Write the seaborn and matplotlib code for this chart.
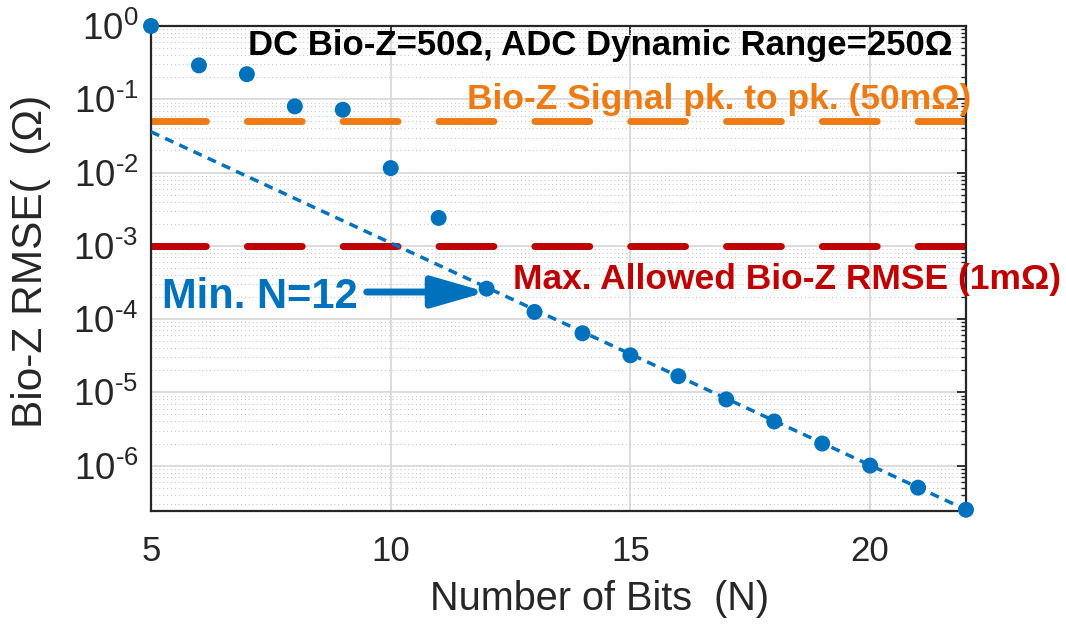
import numpy as np
import pandas as pd
import matplotlib
matplotlib.use("Agg")
import matplotlib.pyplot as plt
import seaborn as sns
from matplotlib.ticker import FixedLocator, LogLocator, NullFormatter, NullLocator, FixedFormatter

# ---------------- data ----------------
bits = [5, 6, 7, 8, 9, 10, 11, 12, 13, 14, 15, 16, 17, 18, 19, 20, 21, 22]
rmse = [1.0, 0.29, 0.22, 0.080, 0.072, 0.0115, 0.0024, 2.6e-4, 1.25e-4,
        6.4e-5, 3.2e-5, 1.66e-5, 8.0e-6, 4.0e-6, 2.0e-6, 1.0e-6, 5.0e-7, 2.5e-7]
fit_bits = [5, 22]
fit_rmse = [0.036, 2.5e-7]
signal_pp = 0.05
max_rmse = 1e-3
x_ticks = [5, 10, 15, 20]
y_ticks = [1e0, 1e-1, 1e-2, 1e-3, 1e-4, 1e-5, 1e-6]
y_tick_labels = [r"$10^{0}$", r"$10^{\text{-}1}$", r"$10^{\text{-}2}$", r"$10^{\text{-}3}$",
                 r"$10^{\text{-}4}$", r"$10^{\text{-}5}$", r"$10^{\text{-}6}$"]
x_tick_labels = ["5", "10", "15", "20"]

BLUE = "#0072BD"
ORANGE = "#EE7A14"
RED = "#C00000"
DARK = "#262626"

sns.set_theme(style="white")
plt.rcParams["font.family"] = ["Liberation Sans", "DejaVu Sans"]
plt.rcParams["mathtext.fontset"] = "custom"
plt.rcParams["mathtext.rm"] = "Liberation Sans"
plt.rcParams["mathtext.it"] = "Liberation Sans:italic"
plt.rcParams["mathtext.bf"] = "Liberation Sans:bold"

fig = plt.figure(figsize=(10.66, 6.28), dpi=100)
ax = fig.add_axes([151 / 1066, 1 - 511 / 628, (966 - 151) / 1066, (511 - 26) / 628])

df = pd.DataFrame({"bits": bits, "rmse": rmse})
fit_df = pd.DataFrame({"bits": fit_bits, "rmse": fit_rmse})

ax.set_yscale("log")
ax.set_xlim(5, 22)
ax.set_ylim(2.4e-7, 1.0)

# grid
ax.grid(which="major", color="#d9d9d9", lw=1.3, zorder=0)
ax.yaxis.grid(which="minor", color="#cacaca", lw=0.8, ls=(0, (1, 2.5)), zorder=0)
ax.set_axisbelow(True)

# reference lines
ax.axhline(signal_pp, color=ORANGE, lw=5, dashes=(7.9, 5.9), dash_capstyle="round", zorder=2)
ax.axhline(max_rmse, color=RED, lw=5, dashes=(7.9, 5.9), dash_capstyle="round", zorder=2)

# fit line
sns.lineplot(data=fit_df, x="bits", y="rmse", ax=ax, color=BLUE, lw=2.5,
             dashes=False, zorder=3)
ax.lines[-1].set_dashes((2.6, 1.9))

# data points
sns.scatterplot(data=df, x="bits", y="rmse", ax=ax, color=BLUE, s=11.5 ** 2,
                edgecolor="none", zorder=4, clip_on=False)

# ticks
ax.xaxis.set_major_locator(FixedLocator(x_ticks))
ax.xaxis.set_major_formatter(FixedFormatter(x_tick_labels))
ax.xaxis.set_minor_locator(NullLocator())
ax.yaxis.set_major_locator(FixedLocator(y_ticks))
ax.yaxis.set_major_formatter(FixedFormatter(y_tick_labels))
ax.yaxis.set_minor_locator(LogLocator(base=10, subs=np.arange(2, 10), numticks=20))
ax.yaxis.set_minor_formatter(NullFormatter())
ax.tick_params(which="both", direction="in", top=True, right=True, colors=DARK)
ax.tick_params(which="major", length=6.5, width=1.3)
ax.tick_params(axis="x", which="major", labelsize=25, pad=17)
ax.tick_params(axis="y", which="major", labelsize=26.5, pad=9)
ax.tick_params(which="minor", length=3.5, width=1.0)
for sp in ax.spines.values():
    sp.set_color(DARK)
    sp.set_linewidth(1.6)

ax.set_xlabel("")
ax.set_ylabel("")
fig.text(600 / 1066, 1 - 610 / 628, "Number of Bits  (N)", fontsize=28.5, color=DARK,
         ha="center", va="baseline")
fig.text(31 / 1066, 1 - 261 / 628, "Bio-Z RMSE(  (\u03a9)", fontsize=30.5, color=DARK,
         rotation=90, ha="center", va="center")

# annotations
ax.text(14.375, 0.40, "DC Bio-Z=50\u03a9, ADC Dynamic Range=250\u03a9", fontsize=25,
        fontweight="bold", color="black", ha="center", va="baseline", zorder=5)
ax.text(16.85, 0.073, "Bio-Z Signal pk. to pk. (50m\u03a9)", fontsize=25.5,
        fontweight="bold", color=ORANGE, ha="center", va="baseline", zorder=5)
ax.text(18.27, 2.57e-4, "Max. Allowed Bio-Z RMSE (1m\u03a9)", fontsize=25.5,
        fontweight="bold", color=RED, ha="center", va="baseline", zorder=5, clip_on=False)
ax.text(7.27, 1.41e-4, "Min. N=12", fontsize=30, fontweight="bold", color=BLUE,
        ha="center", va="baseline", zorder=5)
ax.annotate("", xy=(12.0, 2.34e-4), xytext=(9.5, 2.34e-4),
            arrowprops=dict(arrowstyle="-|>,head_length=3.3,head_width=0.95",
                            mutation_scale=10, lw=5, color=BLUE,
                            shrinkA=0, shrinkB=0), zorder=5)

fig.savefig("out.png", dpi=100)
